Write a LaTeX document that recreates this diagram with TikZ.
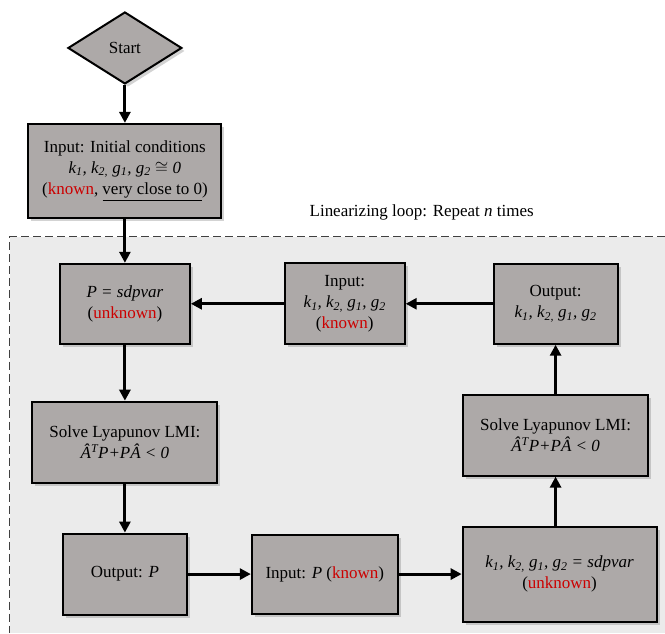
\documentclass[tikz,border=0pt]{standalone}
\usepackage{fontspec,amssymb}
\setmainfont{Liberation Serif}
\usetikzlibrary{arrows.meta,positioning,shapes.geometric,shadows}
\definecolor{boxgray}{HTML}{ADA9A8}
\definecolor{loopgray}{HTML}{EBEBEB}
\definecolor{knownred}{HTML}{CC0000}
\newcommand{\gains}{{\itshape k\textsubscript{1}, k\textsubscript{2,} g\textsubscript{1}, g\textsubscript{2}}}
\newcommand{\red}[1]{\textcolor{knownred}{#1}}
\newcommand{\lmi}{{\itshape \^{A}\textsuperscript{T}P+P\^{A} < 0}}

\begin{document}
\begin{tikzpicture}[node distance=44pt and 60pt,>={Triangle[length=11pt,width=11pt]},
  every node/.style={font=\fontsize{17}{21}\selectfont},
  stepbox/.style={draw,line width=2pt,fill=boxgray,align=center,
    drop shadow={shadow xshift=3pt,shadow yshift=-3pt,opacity=0.35}},
  flow/.style={->,line width=3pt}]
% loop region
\coordinate (lt) at (10pt,-237pt);
\coordinate (rb) at (665pt,-633pt);
\fill[loopgray] (lt) rectangle (rb);
\draw[line width=1pt,dash pattern=on 8pt off 4pt,black!75] (lt -| rb) -- (lt) -- (lt |- rb);
\node (looplbl) at (422pt,-213pt) {Linearizing loop: Repeat \textit{n} times};
% nodes
\node[stepbox,diamond,inner sep=0pt,minimum width=114pt,minimum height=72pt] (start) at (125pt,-48pt) {Start};
\node[stepbox,below=38pt of start,minimum width=193pt,minimum height=94pt] (init) {Input: Initial conditions\\ \gains{} $\cong$ \textit{0}\\ (\red{known}, \underline{very close to 0})};
\node[stepbox,below=44pt of init,minimum width=130pt,minimum height=80pt] (psdp) {\textit{P = sdpvar}\\ (\red{unknown})};
\node[stepbox,below=56pt of psdp,minimum width=185pt,minimum height=81pt] (lmiL) {Solve Lyapunov LMI:\\ \lmi};
\node[stepbox,below=49pt of lmiL,minimum width=124pt,minimum height=81pt] (outP) {Output: \textit{P}};
\node[stepbox,right=63pt of outP,minimum width=146pt,minimum height=79pt] (inP) {Input: \textit{P} (\red{known})};
\node[stepbox,right=63pt of inP,minimum width=194pt,minimum height=95pt] (ksdp) {\gains{} \textit{= sdpvar}\\ (\red{unknown})};
\node[stepbox,above=49pt of ksdp,xshift=-4pt,minimum width=185pt,minimum height=81pt] (lmiR) {Solve Lyapunov LMI:\\ \lmi};
\node[stepbox,above=49pt of lmiR,minimum width=124pt,minimum height=80pt] (outK) {Output:\\ \gains};
\node[stepbox,right=93pt of psdp,minimum width=120pt,minimum height=81pt] (inK) {Input:\\ \gains\\ (\red{known})};
% connectors
\draw[flow] (start) -- (init);
\draw[flow] (init) -- (psdp);
\draw[flow] (psdp) -- (lmiL);
\draw[flow] (lmiL) -- (outP);
\draw[flow] (outP) -- (inP);
\draw[flow] (inP) -- (ksdp);
\draw[flow] (ksdp.north -| lmiR) -- (lmiR);
\draw[flow] (lmiR) -- (outK);
\draw[flow] (outK) -- (inK);
\draw[flow] (inK) -- (psdp);
\useasboundingbox (0pt,0pt) rectangle (665pt,-633pt);
\end{tikzpicture}
\end{document}
